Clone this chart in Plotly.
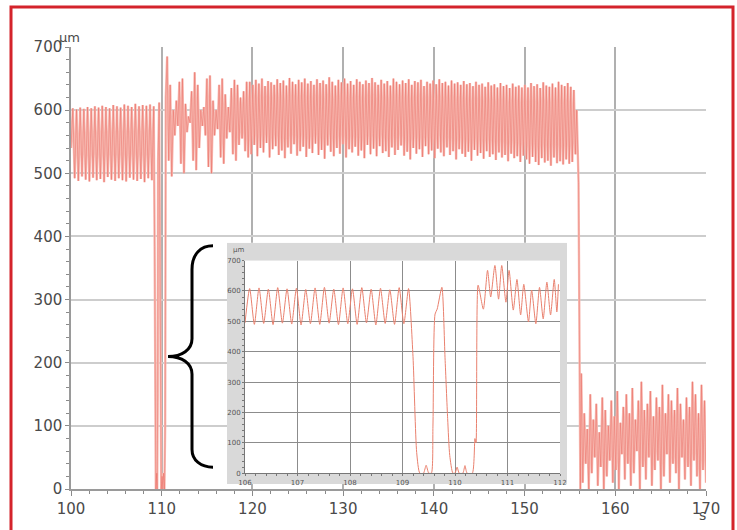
import numpy as np
import plotly.graph_objects as go

# ---------------- data ----------------
# Main signal, segment A: regular oscillation 100 s .. 109.1 s
segA_span = (100.0, 109.12)
segA_vals = [540, 603, 492, 601, 488, 604, 495, 602, 490, 605,
             487, 603, 493, 606, 489, 604, 491, 607, 486, 605,
             494, 603, 490, 608, 488, 606, 492, 604, 489, 609,
             487, 607, 493, 605, 490, 610, 488, 606, 491, 608,
             486, 607, 492, 609, 489, 606]
# segment B: the dropout around 110 s
segB_times = [109.22, 109.35, 109.45, 109.5, 109.56, 109.6, 109.72, 109.8,
              109.87, 109.95, 110.05, 110.12, 110.2, 110.3, 110.38, 110.45]
segB_vals = [384, 0, 25, 0, 150, 520, 612, 380, 180, 0, 20, 0, 25, 0, 100, 620]
# segment C: large oscillation 110.6 s .. 155.6 s (peaks and troughs)
segC_span = (110.6, 155.6)
segC_tops = [685, 640, 600, 615, 645, 650, 610, 590, 630, 660,
             640, 600, 605, 650, 655, 615, 600, 640, 650, 625,
             605, 635, 648, 640, 620, 630, 645,
             645, 640, 648, 642, 650, 638, 646, 644, 640, 649,
             643, 647, 639, 651, 645, 641, 648, 644, 650, 642,
             646, 640, 649, 643, 647, 641, 652, 645, 639, 648,
             644, 650, 642, 646, 640, 649, 645, 641, 647, 643,
             651, 644, 640, 648, 642, 646, 639, 650, 645, 641,
             647, 643, 649, 640, 646, 644, 648, 638, 645, 642,
             647, 641, 649, 643, 645, 639, 647, 642, 644, 640,
             646, 641, 643, 638, 645, 640, 642, 637, 644, 639,
             641, 636, 643, 638, 640, 635, 642, 637, 639, 636,
             640, 636, 643, 638, 641, 635, 644, 639, 637, 642,
             636, 645, 640, 638, 643, 637, 632]
segC_bottoms = [520, 495, 560, 575, 515, 500, 565, 580, 520, 505,
                540, 575, 560, 510, 500, 560, 570, 525, 515, 555,
                565, 530, 520, 545, 555, 535, 525,
                530, 545, 527, 540, 533, 548, 525, 538, 543, 529,
                536, 524, 541, 531, 546, 528, 535, 542, 526, 539,
                532, 547, 529, 537, 523, 544, 534, 527, 540, 531,
                546, 525, 538, 533, 542, 528, 536, 524, 545, 530,
                539, 527, 543, 532, 535, 526, 541, 529, 537, 544,
                528, 534, 522, 540, 531, 538, 526, 543, 530, 536,
                524, 539, 533, 527, 541, 529, 535, 522, 538, 531,
                526, 534, 520, 537, 528, 532, 523, 535, 526, 530,
                521, 533, 525, 529, 519, 531, 524, 527, 518, 528,
                522, 515, 526, 518, 513, 524, 517, 520, 512, 525,
                516, 519, 514, 522, 515, 518, 530]
# segment E: the fall at about 156 s
segE_times = [155.75, 155.95, 156.15]
segE_vals = [600, 485, 0]
# segment D: low oscillation 156.25 s .. 170 s
segD_span = (156.25, 170.0)
segD_tops = [183, 120, 95, 150, 110, 135, 90, 145, 125, 100,
             140, 115, 155, 105, 130, 150, 120, 160, 110, 140,
             170, 125, 135, 155, 115, 145, 130, 165, 120, 150,
             140, 125, 160, 135, 110, 145, 130, 170, 150, 120,
             165, 140]
segD_bottoms = [10, 40, 0, 25, 50, 5, 35, 0, 20, 45,
                10, 30, 0, 55, 15, 40, 5, 25, 60, 0,
                35, 15, 50, 5, 30, 45, 0, 20, 55, 10,
                40, 25, 0, 50, 15, 35, 5, 45, 20, 0,
                30, 10]

# Inset (zoom 106 s .. 112 s)
insetA_span = (106.0, 109.115)
insetA_vals = [495, 608, 490, 610, 493, 606, 489, 611, 494, 607,
               491, 609, 488, 605, 492, 610, 490, 612, 494, 606,
               489, 610, 492, 607, 490, 611, 495, 606, 488, 609,
               493, 604, 490, 611, 492, 608]
insetB_times = [109.2, 109.27, 109.33, 109.4, 109.45, 109.5, 109.55, 109.58,
                109.62, 109.66, 109.75, 109.81, 109.86, 109.9, 109.96, 110.0,
                110.04, 110.08, 110.15, 110.19, 110.23, 110.33, 110.38, 110.4,
                110.44]
insetB_vals = [384, 68, 0, 0, 26, 0, 0, 155, 524, 540, 612, 380, 180, 58, 0, 0,
               20, 0, 0, 25, 0, 0, 114, 100, 619]
insetC_times = [110.54, 110.62, 110.68, 110.76, 110.83, 110.89, 110.97, 111.03,
                111.11, 111.18, 111.25, 111.31, 111.40, 111.46, 111.54, 111.61,
                111.68, 111.75, 111.82, 111.89, 111.94, 111.97]
insetC_vals = [540, 668, 580, 684, 573, 684, 563, 668, 537, 638, 521, 622,
               498, 603, 492, 612, 508, 629, 521, 638, 531, 622]

main_yticks = [0, 100, 200, 300, 400, 500, 600, 700]
main_xticks = [100, 110, 120, 130, 140, 150, 160, 170]
inset_xticks = [106, 107, 108, 109, 110, 111, 112]
inset_yticks = [0, 100, 200, 300, 400, 500, 600, 700]


def interleave(tops, bottoms):
    return [v for pair in zip(tops, bottoms) for v in pair]


segC_vals = interleave(segC_tops, segC_bottoms)
segD_vals = interleave(segD_tops, segD_bottoms)

main_x = np.concatenate([
    np.linspace(*segA_span, len(segA_vals)),
    segB_times,
    np.linspace(*segC_span, len(segC_vals)),
    segE_times,
    np.linspace(*segD_span, len(segD_vals)),
])
main_y = np.concatenate([segA_vals, segB_vals, segC_vals, segE_vals, segD_vals])

inset_x = np.concatenate([np.linspace(*insetA_span, len(insetA_vals)),
                          insetB_times, insetC_times])
inset_y = np.concatenate([insetA_vals, insetB_vals, insetC_vals])

# ---------------- layout helpers (screen pixels -> paper) ----------------
W, H = 737, 530
ML, MT = 71, 47             # main plot left / top on screen
MR = W - 706                # main plot right on screen: 706
MB = H - 494                # main plot bottom on screen: 494
PW, PH = W - ML - MR, H - MT - MB


def px(x):
    return (x - ML) / PW


def py(y):
    return (H - MB - y) / PH


FONT = "DejaVu Sans"
TXT = "#4a4a4a"

fig = go.Figure()
# light under-stroke and darker over-stroke of the same signal
fig.add_trace(go.Scatter(x=main_x, y=main_y, mode="lines",
                         line=dict(color="#f7bcb4", width=2.4),
                         xaxis="x", yaxis="y", hoverinfo="skip"))
fig.add_trace(go.Scatter(x=main_x, y=main_y, mode="lines",
                         line=dict(color="rgba(232,100,90,0.5)", width=0.9),
                         xaxis="x", yaxis="y", hoverinfo="skip"))
# placeholder trace so that the grey inset panel subplot exists
fig.add_trace(go.Scatter(x=[None], y=[None], mode="lines",
                         xaxis="x2", yaxis="y2", hoverinfo="skip"))
fig.add_trace(go.Scatter(x=inset_x, y=inset_y, mode="lines",
                         line=dict(color="#e9806e", width=1, shape="spline", smoothing=0.6),
                         xaxis="x3", yaxis="y3", hoverinfo="skip"))

brace = ("M {} C {} {} {} L {} C {} {} {} C {} {} {} L {} C {} {} {}").format(
    *[f"{px(a)},{py(b)}" for a, b in [
        (213, 248), (201, 248), (192, 256), (192, 272), (192, 342),
        (192, 353), (182, 360), (168, 360), (182, 360), (192, 367), (192, 378),
        (192, 454), (192, 465), (201, 472), (213, 472)]])

fig.update_layout(
    width=W, height=H,
    margin=dict(l=ML, r=MR, t=MT, b=MB),
    paper_bgcolor="white", plot_bgcolor="white",
    showlegend=False,
    xaxis=dict(domain=[0, 1], range=[100, 170], tickvals=main_xticks,
               showgrid=True, gridcolor="#b0b0b0", gridwidth=1.5,
               ticks="outside", ticklen=5, tickcolor="#8a8a8a",
               minor=dict(dtick=2, ticks="outside", ticklen=3, tickcolor="#8a8a8a", showgrid=False),
               showline=True, linecolor="#9a9a9a", linewidth=1.5, zeroline=False,
               tickfont=dict(family=FONT, size=15, color=TXT)),
    yaxis=dict(domain=[0, 1], range=[0, 700], tickvals=main_yticks,
               showgrid=True, gridcolor="#cdcdcd", gridwidth=1.5,
               ticks="outside", ticklen=4, tickcolor="#8a8a8a",
               minor=dict(dtick=20, ticks="outside", ticklen=3, tickcolor="#8a8a8a", showgrid=False),
               showline=True, linecolor="#9a9a9a", linewidth=1.5, zeroline=False,
               tickfont=dict(family=FONT, size=15, color=TXT)),
    xaxis2=dict(domain=[px(227), px(567)], range=[0, 1], anchor="y2", visible=False),
    yaxis2=dict(domain=[py(489), py(245)], range=[0, 1], anchor="x2", visible=False),
    xaxis3=dict(domain=[px(245), px(560)], range=[106, 112], anchor="y3",
                tickvals=inset_xticks, showgrid=True, gridcolor="#8c8c8c", gridwidth=1,
                ticks="outside", ticklen=2, tickcolor="#777",
                minor=dict(dtick=0.2, ticks="outside", ticklen=2, tickcolor="#777", showgrid=False),
                showline=True, linecolor="#777", linewidth=1, zeroline=False,
                tickfont=dict(family=FONT, size=7, color="#555")),
    yaxis3=dict(domain=[py(478), py(263)], range=[0, 700], anchor="x3",
                tickvals=inset_yticks, showgrid=True, gridcolor="#8c8c8c", gridwidth=1,
                ticks="outside", ticklen=2, tickcolor="#777",
                minor=dict(dtick=20, ticks="outside", ticklen=2, tickcolor="#777", showgrid=False),
                showline=True, linecolor="#777", linewidth=1, zeroline=False,
                tickfont=dict(family=FONT, size=7, color="#555")),
    shapes=[
        dict(type="rect", xref="x2", yref="y2", x0=0, x1=1, y0=0, y1=1,
             fillcolor="#d9d9d9", line=dict(width=0), layer="below"),
        dict(type="path", xref="paper", yref="paper", path=brace,
             line=dict(color="black", width=3), layer="above"),
        dict(type="rect", xref="paper", yref="paper",
             x0=px(11), x1=px(733), y0=py(545), y1=py(6.5),
             line=dict(color="#d4232b", width=3), fillcolor="rgba(0,0,0,0)", layer="above"),
    ],
    annotations=[
        dict(text="µm", xref="paper", yref="paper", x=px(69), y=py(37),
             showarrow=False, font=dict(family=FONT, size=13, color=TXT),
             xanchor="center", yanchor="middle"),
        dict(text="s", xref="paper", yref="paper", x=px(702), y=py(520),
             showarrow=False, font=dict(family=FONT, size=14, color=TXT),
             xanchor="center", yanchor="middle"),
        dict(text="µm", xref="paper", yref="paper", x=px(238), y=py(252),
             showarrow=False, font=dict(family=FONT, size=7, color="#555"),
             xanchor="center", yanchor="middle"),
    ],
)

# page body margin removed so the 737x530 figure fills the window exactly
fig.write_html("out.html",
               config={"displayModeBar": False},
               post_script="document.body.style.margin='0px';document.body.style.overflow='hidden';")
